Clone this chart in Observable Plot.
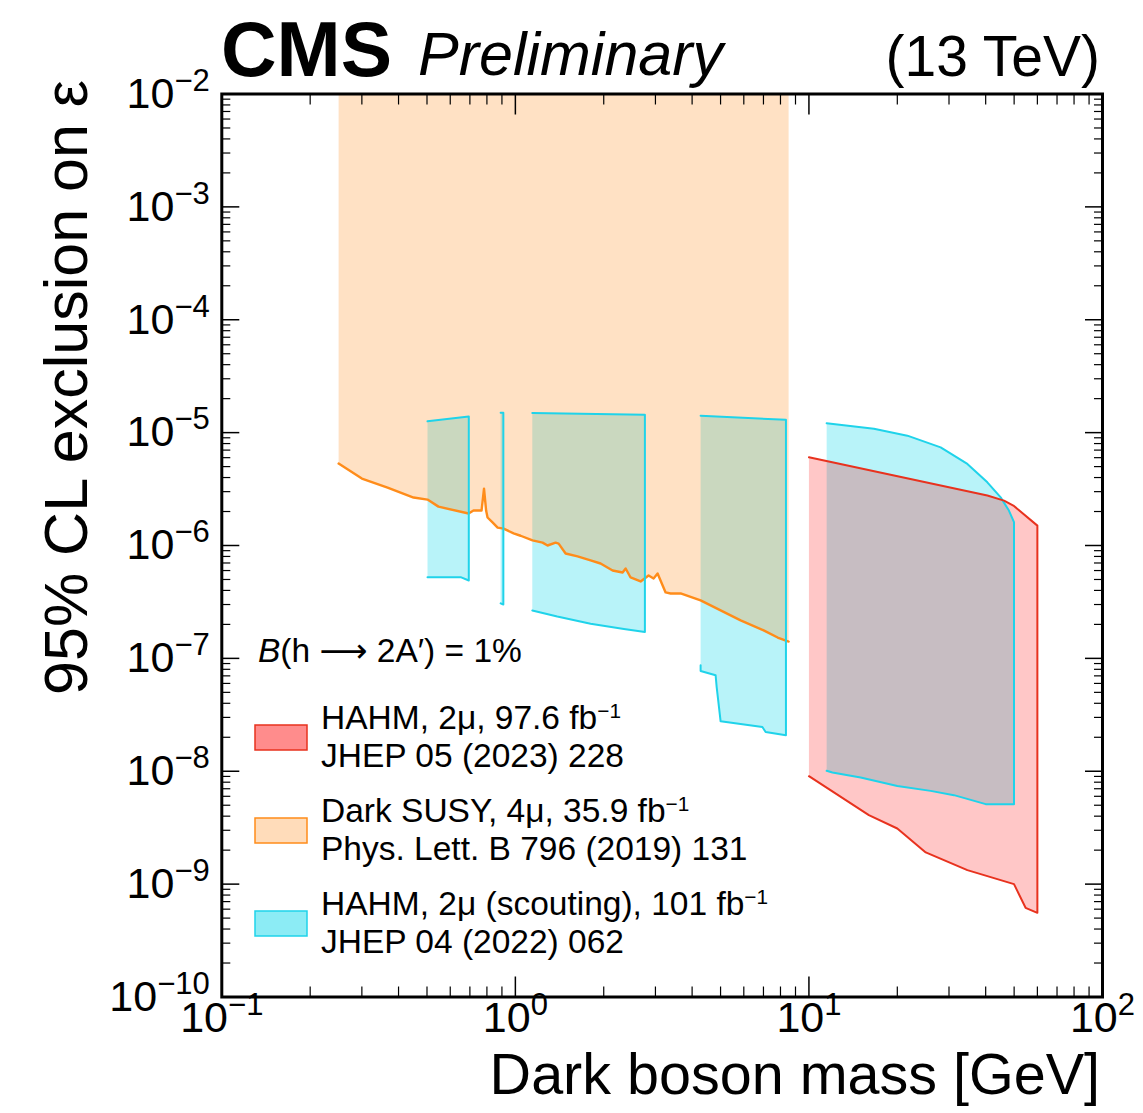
<!DOCTYPE html>
<html>
<head>
<meta charset="utf-8">
<script src="https://cdn.jsdelivr.net/npm/d3@7"></script>
<script src="https://cdn.jsdelivr.net/npm/@observablehq/plot@0.6"></script>
<style>
  body { margin: 0; background: #fff; }
  svg text { font-family: "Liberation Sans", Arial, Helvetica, sans-serif; }
</style>
</head>
<body>
<div id="chart"></div>
<script>
// ---------- tick values ----------
const xMajorTicks = [0.1, 1, 10, 100];
const yMajorTicks = [1e-10, 1e-9, 1e-8, 1e-7, 1e-6, 1e-5, 1e-4, 1e-3, 1e-2];
const minorMultipliers = [2, 3, 4, 5, 6, 7, 8, 9];

// ---------- Dark SUSY, 4mu (lower edge of excluded band, band extends to top) ----------
const darkSusyMass = [0.25, 0.30, 0.367, 0.450, 0.502, 0.547, 0.693, 0.720, 0.767, 0.782, 0.795, 0.804, 0.836, 0.870, 0.912, 0.986, 1.042, 1.144, 1.238, 1.287, 1.371, 1.404, 1.483, 1.629, 1.804, 1.951, 2.144, 2.319, 2.375, 2.469, 2.671, 2.843, 2.957, 3.051, 3.249, 3.379, 3.655, 4.276, 5.002, 5.852, 7.011, 7.824, 8.527];
const darkSusyEps = [5.32e-6, 3.92e-6, 3.26e-6, 2.66e-6, 2.55e-6, 2.21e-6, 1.92e-6, 2.04e-6, 2.04e-6, 3.19e-6, 2.04e-6, 1.77e-6, 1.60e-6, 1.44e-6, 1.41e-6, 1.28e-6, 1.22e-6, 1.11e-6, 1.06e-6, 1.0e-6, 1.06e-6, 1.04e-6, 8.49e-7, 8.0e-7, 7.37e-7, 6.93e-7, 6.01e-7, 5.77e-7, 6.25e-7, 5.21e-7, 4.80e-7, 5.43e-7, 5.11e-7, 5.65e-7, 3.84e-7, 3.76e-7, 3.76e-7, 3.26e-7, 2.66e-7, 2.17e-7, 1.77e-7, 1.53e-7, 1.41e-7];
const darkSusyTopEps = 1e-2;

// ---------- HAHM, 2mu (scouting): separate mass windows ----------
const scoutA_upMass = [0.502, 0.694];
const scoutA_upEps  = [1.26e-5, 1.39e-5];
const scoutA_loMass = [0.502, 0.651, 0.694];
const scoutA_loEps  = [5.24e-7, 5.24e-7, 4.90e-7];

const scoutB_upMass = [0.891, 0.910];
const scoutB_upEps  = [1.50e-5, 1.50e-5];
const scoutB_loMass = [0.891, 0.910];
const scoutB_loEps  = [3.07e-7, 3.0e-7];

const scoutC_upMass = [1.142, 2.762];
const scoutC_upEps  = [1.49e-5, 1.44e-5];
const scoutC_loMass = [1.142, 1.389, 1.804, 2.343, 2.762];
const scoutC_loEps  = [2.66e-7, 2.35e-7, 2.03e-7, 1.82e-7, 1.71e-7];

const scoutD_upMass = [4.276, 8.35];
const scoutD_upEps  = [1.41e-5, 1.30e-5];
const scoutD_loMass = [4.276, 4.276, 4.81, 4.85, 5.002, 6.94, 7.12, 8.35];
const scoutD_loEps  = [8.67e-8, 7.72e-8, 7.08e-8, 5.57e-8, 2.77e-8, 2.47e-8, 2.23e-8, 2.08e-8];

const scoutE_upMass = [11.49, 16.65, 21.64, 28.1, 34.65, 40.53, 45.0, 48.0, 49.95];
const scoutE_upEps  = [1.21e-5, 1.08e-5, 9.40e-6, 7.41e-6, 5.28e-6, 3.63e-6, 2.67e-6, 2.04e-6, 1.61e-6];
const scoutE_loMass = [11.49, 12.02, 15.0, 20.0, 25.98, 31.19, 40.0, 49.95];
const scoutE_loEps  = [1.01e-8, 9.74e-9, 8.79e-9, 7.41e-9, 6.70e-9, 6.14e-9, 5.11e-9, 5.11e-9];

// ---------- HAHM, 2mu, 97.6 fb-1 ----------
const hahm_upMass = [10.0, 40.53, 46.2, 49.7, 60.0];
const hahm_upEps  = [6.04e-6, 2.77e-6, 2.50e-6, 2.26e-6, 1.50e-6];
const hahm_loMass = [10.0, 16.0, 20.0, 25.0, 34.65, 49.95, 54.7, 60.0];
const hahm_loEps  = [9.04e-9, 4.08e-9, 3.11e-9, 1.91e-9, 1.33e-9, 1.0e-9, 6.17e-10, 5.57e-10];

// ---------- colours ----------
const cyanFill = "#00d5e8", cyanLine = "#1fd3ea";
const orangeFill = "#ff8c1a", orangeLine = "#ff8c1a";
const redFill = "#ff0000", redLine = "#e8321e";

// ---------- helpers ----------
const pts = (id, xs, ys) => xs.map((x, i) => ({id, mass: x, eps: ys[i]}));
const polygon = (id, ux, uy, lx, ly) => [...pts(id, ux, uy), ...pts(id, lx, ly).reverse()];

const scoutPolys = [
  ...polygon("A", scoutA_upMass, scoutA_upEps, scoutA_loMass, scoutA_loEps),
  ...polygon("B", scoutB_upMass, scoutB_upEps, scoutB_loMass, scoutB_loEps),
  ...polygon("C", scoutC_upMass, scoutC_upEps, scoutC_loMass, scoutC_loEps),
  ...polygon("D", scoutD_upMass, scoutD_upEps, scoutD_loMass, scoutD_loEps),
  ...polygon("E", scoutE_upMass, scoutE_upEps, scoutE_loMass, scoutE_loEps)
];
const hahmPoly = polygon("H", hahm_upMass, hahm_upEps, hahm_loMass, hahm_loEps);
const darkSusyLine = pts("S", darkSusyMass, darkSusyEps);
const darkSusyPoly = [
  ...darkSusyLine,
  {id: "S", mass: darkSusyMass[darkSusyMass.length - 1], eps: darkSusyTopEps},
  {id: "S", mass: darkSusyMass[0], eps: darkSusyTopEps}
];

const xMinorTicks = [0.1, 1, 10].flatMap(d => minorMultipliers.map(m => d * m));
const yMinorTicks = yMajorTicks.slice(0, -1).flatMap(d => minorMultipliers.map(m => d * m));
const expo = d => String(Math.round(Math.log10(d)));

const plot = Plot.plot({
  width: 1143,
  height: 1113,
  marginLeft: 221.3,
  marginRight: 41,
  marginTop: 93.5,
  marginBottom: 116.5,
  x: {type: "log", domain: [0.1, 100]},
  y: {type: "log", domain: [1e-10, 1e-2]},
  style: {fontFamily: "Liberation Sans, Arial, sans-serif", background: "white", overflow: "visible", color: "black"},
  marks: [
    // fills
    Plot.line(scoutPolys, {x: "mass", y: "eps", z: "id", fill: cyanFill, fillOpacity: 0.28, stroke: "none"}),
    Plot.line(darkSusyPoly, {x: "mass", y: "eps", z: "id", fill: orangeFill, fillOpacity: 0.26, stroke: "none"}),
    Plot.line(hahmPoly, {x: "mass", y: "eps", z: "id", fill: redFill, fillOpacity: 0.22, stroke: "none"}),
    // outlines
    Plot.line(darkSusyLine, {x: "mass", y: "eps", stroke: orangeLine, strokeWidth: 2.4}),
    Plot.line(scoutPolys, {x: "mass", y: "eps", z: "id", stroke: cyanLine, strokeWidth: 2}),
    Plot.line(hahmPoly, {x: "mass", y: "eps", z: "id", stroke: redLine, strokeWidth: 2}),
    // ticks (inside, all four sides)
    Plot.axisX({anchor: "bottom", ticks: xMajorTicks, tickSize: -20, fill: "none", strokeWidth: 1.5}),
    Plot.axisX({anchor: "bottom", ticks: xMinorTicks, tickSize: -10, fill: "none", strokeWidth: 1.2}),
    Plot.axisX({anchor: "top", ticks: xMajorTicks, tickSize: -20, fill: "none", strokeWidth: 1.5}),
    Plot.axisX({anchor: "top", ticks: xMinorTicks, tickSize: -10, fill: "none", strokeWidth: 1.2}),
    Plot.axisY({anchor: "left", ticks: yMajorTicks, tickSize: -18, fill: "none", strokeWidth: 1.5}),
    Plot.axisY({anchor: "left", ticks: yMinorTicks, tickSize: -9, fill: "none", strokeWidth: 1.2}),
    Plot.axisY({anchor: "right", ticks: yMajorTicks, tickSize: -18, fill: "none", strokeWidth: 1.5}),
    Plot.axisY({anchor: "right", ticks: yMinorTicks, tickSize: -9, fill: "none", strokeWidth: 1.2}),
    // tick labels
    Plot.text(xMajorTicks, {x: d => d, frameAnchor: "bottom", lineAnchor: "top", dy: 4, text: expo, fontSize: 43, fill: "black"}),
    Plot.text(yMajorTicks, {y: d => d, frameAnchor: "left", textAnchor: "end", lineAnchor: "middle", dx: -12, dy: 0, text: expo, fontSize: 43, fill: "black"}),
    Plot.frame({stroke: "black", strokeWidth: 3})
  ]
});

document.getElementById("chart").appendChild(plot);

const svg = d3.select(plot);
// superscript tick labels: 10^n (only the tick-label texts exist at this point)
svg.selectAll("text").each(function () {
  const raw = this.textContent.trim();
  if (!/^-?\d+$/.test(raw)) return;
  const e = raw.replace("-", "\u2212");
  const t = d3.select(this);
  t.text("");
  t.append("tspan").text("10");
  t.append("tspan").attr("dy", -17).attr("font-size", 31).text(e);
});

const font = "Liberation Sans, Arial, sans-serif";
function addText(x, y, parts, size, anchor = "start", extra = {}) {
  const t = svg.append("text").attr("x", x).attr("y", y).attr("font-size", size)
    .attr("text-anchor", anchor).attr("fill", "black").attr("font-family", font);
  for (const [k, v] of Object.entries(extra)) t.attr(k, v);
  for (const p of parts) {
    const s = t.append("tspan").text(p.t);
    if (p.italic) s.attr("font-style", "italic");
    if (p.bold) s.attr("font-weight", "bold");
    if (p.family) s.attr("font-family", p.family);
    if (p.sup) s.attr("baseline-shift", "super").attr("font-size", size * 0.62);
  }
  return t;
}

// header texts
addText(221, 76, [{t: "CMS", bold: true}], 77);
addText(418, 75, [{t: "Preliminary", italic: true}], 61);
addText(1100, 76, [{t: "(13 TeV)"}], 57, "end");

// axis titles
addText(1100, 1094, [{t: "Dark boson mass [GeV]"}], 57.5, "end");
addText(0, 0, [{t: "95% CL exclusion on \u03b5"}], 61, "end", {transform: "translate(87,80) rotate(-90)"});

// legend
addText(258, 662, [{t: "B", italic: true}, {t: "(h "}, {t: "\u27f6", family: "DejaVu Sans"}, {t: " 2A\u2032) = 1%"}], 33.5);
const legendEntries = [
  {fill: redFill, op: 0.45, stroke: redLine, l1: [{t: "HAHM, 2\u03bc, 97.6 fb"}, {t: "\u22121", sup: true}], l2: "JHEP 05 (2023) 228"},
  {fill: orangeFill, op: 0.3, stroke: orangeLine, l1: [{t: "Dark SUSY, 4\u03bc, 35.9 fb"}, {t: "\u22121", sup: true}], l2: "Phys. Lett. B 796 (2019) 131"},
  {fill: cyanFill, op: 0.45, stroke: cyanLine, l1: [{t: "HAHM, 2\u03bc (scouting), 101 fb"}, {t: "\u22121", sup: true}], l2: "JHEP 04 (2022) 062"}
];
legendEntries.forEach((e, i) => {
  const y0 = 725 + 93 * i;
  svg.append("rect").attr("x", 255).attr("y", y0).attr("width", 52).attr("height", 25)
    .attr("fill", e.fill).attr("fill-opacity", e.op).attr("stroke", e.stroke).attr("stroke-width", 1.5);
  addText(321, 729 + 93 * i, e.l1, 33.5);
  addText(321, 767 + 93 * i, [{t: e.l2}], 33.5);
});
</script>
</body>
</html>
